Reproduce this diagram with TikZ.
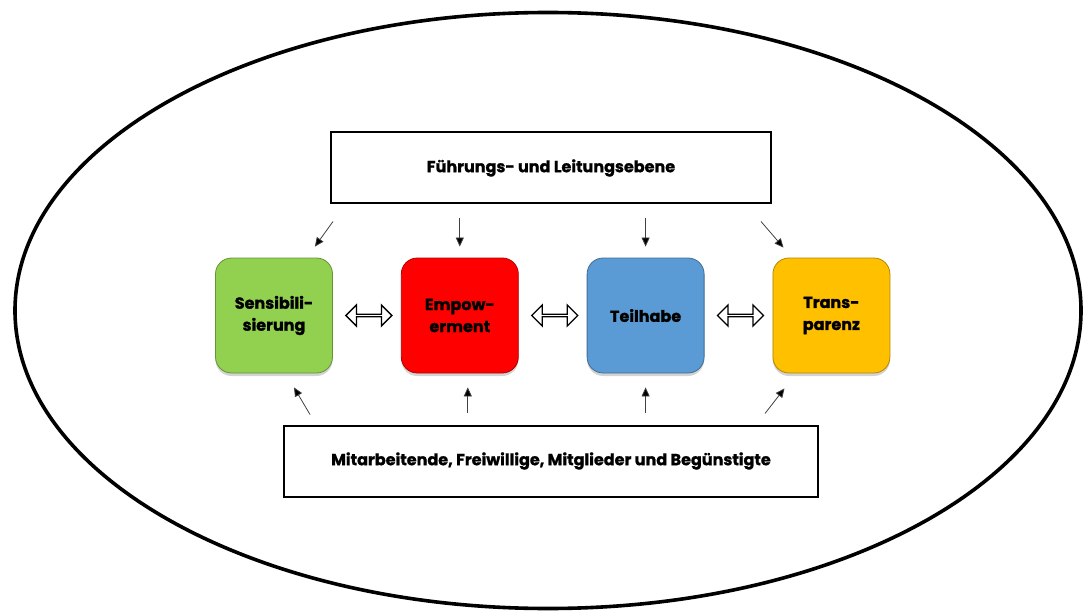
\documentclass[tikz,border=0pt]{standalone}
\usepackage{fontspec}
\setmainfont{Poppins}[BoldFeatures={FakeBold=1.2}]
\usetikzlibrary{arrows.meta, positioning, shadows, shapes.arrows, calc}

\definecolor{sensigreen}{HTML}{92D050}
\definecolor{empred}{HTML}{FF0000}
\definecolor{teilblue}{HTML}{5B9BD5}
\definecolor{transyellow}{HTML}{FFC000}

\tikzset{
  labelfont/.style={font=\bfseries\fontsize{16}{22}\selectfont},
  pillar/.style={labelfont, draw=#1!70!black, fill=#1, line width=0.8pt,
    rounded corners=16pt, minimum width=117pt, minimum height=115pt,
    align=center, inner sep=2pt,
    drop shadow={shadow xshift=0pt, shadow yshift=-3pt, opacity=0.35}},
  levelbox/.style={labelfont, draw, line width=2pt, minimum height=71pt},
  smallarrow/.style={draw=black!75, line width=0.8pt,
    -{Triangle[length=9pt, width=8pt, fill=black]}},
  twoway/.style={double arrow, draw, line width=1.3pt, fill=white,
    inner sep=0pt, minimum height=46pt, minimum width=21pt,
    double arrow head extend=5pt, double arrow head indent=0pt}
}

\begin{document}
\begin{tikzpicture}[x=1pt, y=-1pt, node distance=68pt]

  \useasboundingbox (0,0) rectangle (1083,612);

  % outer frame
  \draw[line width=3.6pt] (548,310.5) ellipse [x radius=533, y radius=298];

  % the four pillars
  \node (sensi) [pillar=sensigreen] at (274,315.5) {Sensibili-\\sierung};
  \node (empow) [pillar=empred, right=of sensi] {Empow-\\erment};
  \node (teil) [pillar=teilblue, right=of empow] {Teilhabe};
  \node (trans) [pillar=transyellow, right=of teil] {Trans-\\parenz};

  % levels
  \node (leitung) [levelbox, minimum width=440pt] at (551,168) {Führungs- und Leitungsebene};
  \node (basis) [levelbox, minimum width=534pt] at (551,461) {Mitarbeitende, Freiwillige, Mitglieder und Begünstigte};

  % links between the pillars
  \node (sensiempow) [twoway] at ($(sensi.east)!0.5!(empow.west)+(2,0)$) {};
  \node (empowteil) [twoway] at ($(empow.east)!0.5!(teil.west)+(2,0)$) {};
  \node (teiltrans) [twoway] at ($(teil.east)!0.5!(trans.west)+(2,0)$) {};

  % from the top level
  \draw[smallarrow] ([shift={(3,17)}]leitung.south west) -- ([shift={(-18,-11)}]sensi.north east);
  \draw[smallarrow, shorten <=14pt, shorten >=11pt] (leitung.south -| empow.north) -- (empow.north);
  \draw[smallarrow, shorten <=14pt, shorten >=11pt] (leitung.south -| teil.north) -- (teil.north);
  \draw[smallarrow] ([shift={(-11,17)}]leitung.south east) -- ([shift={(11,-10)}]trans.north west);

  % from the bottom level
  \draw[smallarrow] ([shift={(27,-10)}]basis.north west) -- ([shift={(20,14)}]sensi.south);
  \draw[smallarrow, shorten <=12pt, shorten >=14pt] ([xshift=8pt]basis.north -| empow.south) -- ([xshift=8pt]empow.south);
  \draw[smallarrow, shorten <=12pt, shorten >=14pt] (basis.north -| teil.south) -- (teil.south);
  \draw[smallarrow] ([shift={(-54,-11)}]basis.north east) -- ([shift={(12,15)}]trans.south west);

\end{tikzpicture}
\end{document}
